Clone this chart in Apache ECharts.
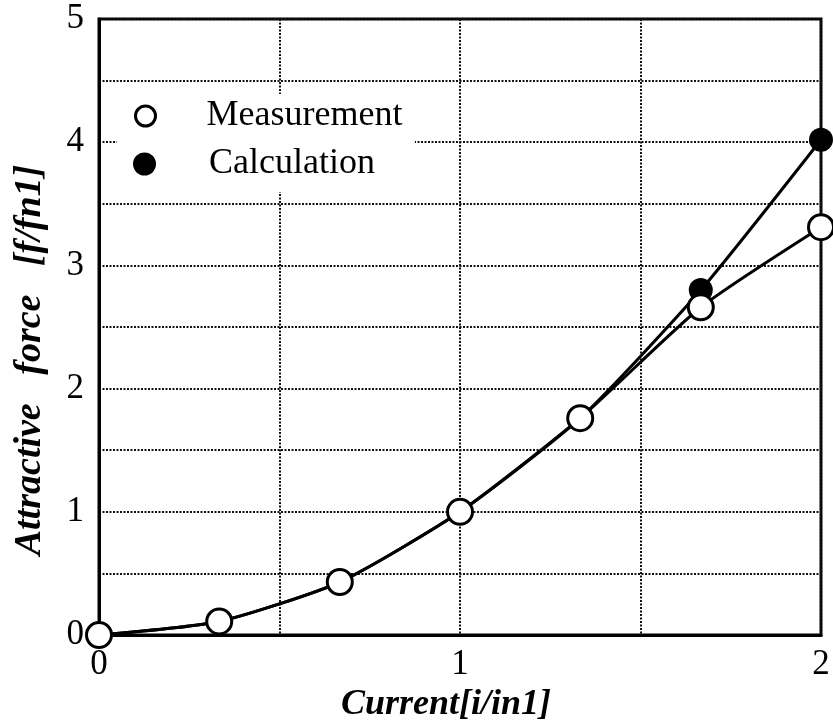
<!DOCTYPE html>
<html>
<head>
<meta charset="utf-8">
<script src="https://cdn.jsdelivr.net/npm/echarts@6/dist/echarts.min.js"></script>
<style>
  html, body { margin: 0; padding: 0; background: #fff; }
  #chart { width: 833px; height: 728px; }
</style>
</head>
<body>
<div id="chart"></div>
<script>
var current = [0, 0.333, 0.667, 1, 1.333, 1.667, 2];
var measurement = [0.0, 0.11, 0.43, 1.0, 1.76, 2.66, 3.31];
var calculation = [0.0, 0.11, 0.43, 1.0, 1.76, 2.80, 4.02];
var yTicks = [0, 1, 2, 3, 4, 5];
var xTicks = [0, 1, 2];

var chart = echarts.init(document.getElementById('chart'));
var serif = "'Liberation Serif', 'Times New Roman', serif";

function pairs(xs, ys) {
    return xs.map(function (x, i) { return [x, ys[i]]; });
}

// dense dotted grid, like the scanned original
var dotted = { color: '#111', width: 2, type: [2, 1.5] };

option = {
    backgroundColor: '#ffffff',
    animation: false,
    grid: {
        left: 99, right: 12, top: 19, bottom: 93,
        show: true, borderColor: '#000', borderWidth: 3
    },
    legend: [{
        left: 117, top: 94,
        padding: [4, 4, 8, 17],
        backgroundColor: '#fff',
        itemWidth: 20, itemHeight: 20,
        textStyle: { fontFamily: serif, fontSize: 36, color: '#000', padding: [0, 0, 0, 46] },
        data: [{ name: 'Measurement', icon: 'circle',
            itemStyle: { color: '#fff', borderColor: '#000', borderWidth: 3 } }]
    }, {
        left: 117, top: 140,
        padding: [6, 40, 10, 16],
        backgroundColor: '#fff',
        itemWidth: 23, itemHeight: 23,
        textStyle: { fontFamily: serif, fontSize: 36, color: '#000', padding: [0, 0, 0, 48] },
        data: [{ name: 'Calculation', icon: 'circle',
            itemStyle: { color: '#000', borderWidth: 0 } }]
    }],
    xAxis: {
        type: 'value', min: 0, max: 2, interval: 0.5,
        name: 'Current[i/in1]',
        nameLocation: 'middle', nameGap: 46,
        nameTextStyle: { fontFamily: serif, fontSize: 36, fontWeight: 'bold', fontStyle: 'italic', color: '#000', padding: [0, 28, 0, 0] },
        axisLine: { lineStyle: { color: '#000', width: 3 } },
        axisTick: { show: false },
        axisLabel: {
            fontFamily: serif, fontSize: 35, color: '#000', margin: 12,
            formatter: function (v) { return xTicks.indexOf(v) >= 0 ? String(v) : ''; }
        },
        splitLine: { show: true, lineStyle: dotted }
    },
    yAxis: {
        type: 'value', min: 0, max: 5, interval: 0.5,
        name: 'Attractive   force   [f/fn1]',
        nameLocation: 'middle', nameGap: 50, nameRotate: 90,
        nameTextStyle: { fontFamily: serif, fontSize: 38, fontWeight: 'bold', fontStyle: 'italic', color: '#000', padding: [0, 66, 0, 0] },
        axisLine: { show: true, lineStyle: { color: '#000', width: 3 } },
        axisTick: { show: false },
        axisLabel: {
            fontFamily: serif, fontSize: 35, color: '#000', margin: 15,
            formatter: function (v) { return yTicks.indexOf(v) >= 0 ? String(v) : ''; }
        },
        splitLine: { show: true, lineStyle: dotted }
    },
    series: [{
        name: 'Calculation',
        type: 'line',
        z: 3,
        smooth: 0.2,
        data: pairs(current, calculation),
        symbol: 'circle', symbolSize: 24,
        lineStyle: { color: '#000', width: 3 },
        itemStyle: { color: '#000', borderWidth: 0 }
    }, {
        name: 'Measurement',
        type: 'line',
        z: 4,
        smooth: 0.2,
        data: pairs(current, measurement),
        symbol: 'circle', symbolSize: 25,
        lineStyle: { color: '#000', width: 3 },
        itemStyle: { color: '#fff', borderColor: '#000', borderWidth: 3 }
    }]
};
chart.setOption(option);

window.onresize = function () {
    chart.resize();
};
</script>
</body>
</html>
